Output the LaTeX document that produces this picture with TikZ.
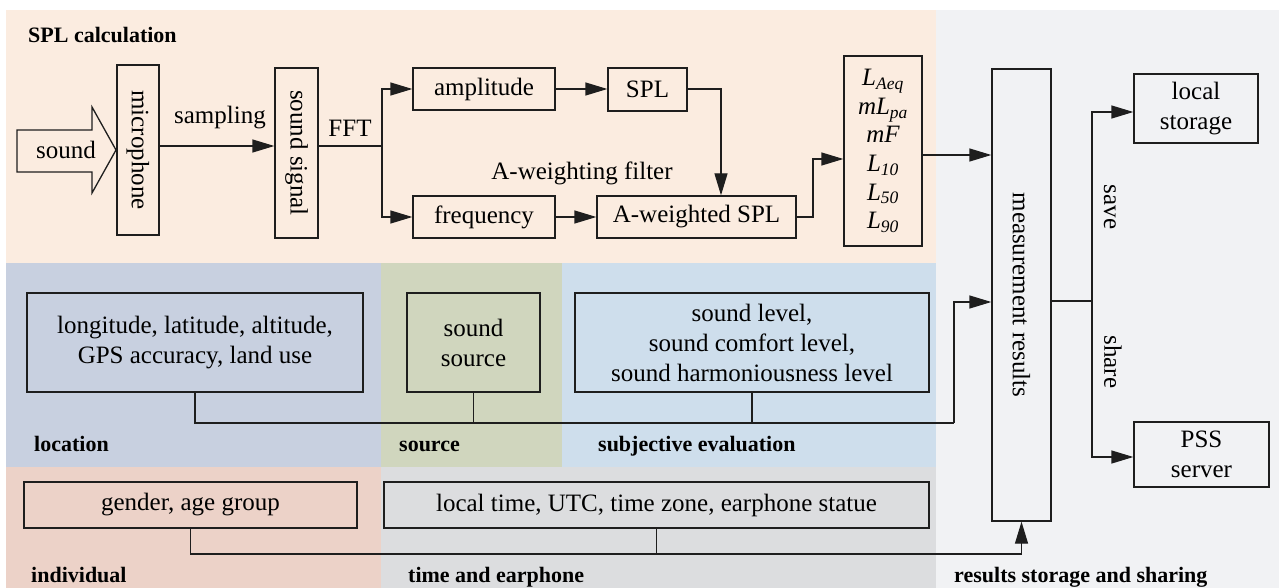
\documentclass[tikz,border=0pt]{standalone}
\usepackage{fontspec}
\setmainfont{Liberation Serif}
\newfontfamily\tms{Liberation Serif}
\usetikzlibrary{arrows.meta,calc}
\definecolor{cSPL}{RGB}{251,236,224}
\definecolor{cRes}{RGB}{241,242,244}
\definecolor{cLoc}{RGB}{200,208,224}
\definecolor{cSrc}{RGB}{208,214,190}
\definecolor{cSubj}{RGB}{206,222,236}
\definecolor{cInd}{RGB}{236,210,200}
\definecolor{cTime}{RGB}{220,221,223}
\definecolor{linec}{RGB}{30,30,30}
\tikzset{
  box/.style={draw=linec, line width=1.3pt, inner sep=0pt, align=center,
    font=\tms\fontsize{25}{30}\selectfont, text=black},
  conn/.style={draw=linec, line width=1.3pt},
  arr/.style={draw=linec, line width=1.3pt, -{Triangle[length=22pt,width=13pt]}},
  lab/.style={font=\tms\fontsize{22}{26}\selectfont\bfseries, anchor=base west, inner sep=0pt, text=black},
  txtlabel/.style={font=\tms\fontsize{25}{30}\selectfont, inner sep=0pt, text=black, align=center},
}
\begin{document}
\begin{tikzpicture}[x=1pt,y=-1pt]
\useasboundingbox (0,0) rectangle (1279,588);
% regions
\fill[cSPL] (6,10) rectangle (936,263);
\fill[cRes] (936,10) rectangle (1279,588);
\fill[cLoc] (6,263) rectangle (381,467);
\fill[cSrc] (381,263) rectangle (562,467);
\fill[cSubj] (562,263) rectangle (936,467);
\fill[cInd] (6,467) rectangle (381,588);
\fill[cTime] (381,467) rectangle (936,588);
% region labels
\node[lab] (lspl) at (28,43) {SPL calculation};
\node[lab] (lloc) at (34,451) {location};
\node[lab] (lsrc) at (399,451) {source};
\node[lab] (lsub) at (598,451) {subjective evaluation};
\node[lab] (lind) at (31,582) {individual};
\node[lab] (ltim) at (408,582) {time and earphone};
\node[lab] (lres) at (954,582) {results storage and sharing};
% sound arrow
\draw[conn, line join=miter] (17,130) -- (92,130) -- (92,107) -- (116,150) -- (92,193) -- (92,172) -- (17,172) -- cycle;
\node[txtlabel] (sound) at (66,150) {sound};
% boxes
\node[box, minimum width=42pt, minimum height=170pt] (mic) at (138,150) {\rotatebox{-90}{microphone}};
\node[box, minimum width=43pt, minimum height=170pt] (sig) at (296.5,153) {\rotatebox{-90}{sound signal}};
\node[box, minimum width=142pt, minimum height=42pt] (amp) at (484,89) {amplitude};
\node[box, minimum width=79pt, minimum height=43pt] (spl) at (647.5,89.5) {SPL};
\node[box, minimum width=142pt, minimum height=42pt] (freq) at (484,217) {frequency};
\node[box, minimum width=199pt, minimum height=42pt] (aw) at (696.5,217) {A-weighted SPL};
\node[box, minimum width=78pt, minimum height=190pt, font=\tms\fontsize{25}{28.6}\selectfont\itshape] (lv) at (883,151)
  {L\textsubscript{Aeq}\\ mL\textsubscript{pa}\\ mF\\ L\textsubscript{10}\\ L\textsubscript{50}\\ L\textsubscript{90}};
\node[box, minimum width=59pt, minimum height=452pt] (meas) at (1021.5,295) {\rotatebox{-90}{measurement results}};
\node[box, minimum width=124pt, minimum height=69pt] (local) at (1196,108.5) {local\\storage};
\node[box, minimum width=135pt, minimum height=65pt] (pss) at (1201.5,454.5) {PSS\\server};
\node[box, minimum width=336pt, minimum height=99pt] (loc) at (195,342.5) {longitude, latitude, altitude,\\GPS accuracy, land use};
\node[box, minimum width=133pt, minimum height=99pt] (src) at (473.5,342.5) {sound\\source};
\node[box, minimum width=354pt, minimum height=99pt] (subj) at (752,342.5) {sound level,\\sound comfort level,\\sound harmoniousness level};
\node[box, minimum width=333pt, minimum height=46pt] (gen) at (190.5,505) {gender, age group};
\node[box, minimum width=545pt, minimum height=46pt] (tim) at (656.5,505) {local time, UTC, time zone, earphone statue};
% edge labels
\node[txtlabel] (tsamp) at (220,118) {sampling};
\node[txtlabel] (tfft) at (350,128) {FFT};
\node[txtlabel] (tawf) at (582,173) {A-weighting filter};
\node[txtlabel, rotate=-90] (tsave) at (1110,207) {save};
\node[txtlabel, rotate=-90] (tshare) at (1113,362) {share};
% connectors SPL
\draw[arr] (mic.east |- 0,146) -- (sig.west |- 0,146);
\coordinate (jf) at (382,146);
\draw[conn] (sig.east |- jf) -- (jf);
\draw[arr] (jf) |- (amp.west);
\draw[arr] (jf) |- (freq.west);
\draw[arr] (amp.east) -- (spl.west |- amp.east);
\coordinate (ja) at (721,89);
\draw[arr] (spl.east |- ja) -- (ja) -- (ja |- aw.north);
\draw[arr] (freq.east) -- (aw.west);
\coordinate (jb) at (813,217);
\draw[arr] (aw.east) -- (jb) |- (lv.west |- 0,159);
\draw[arr] (lv.east |- 0,155) -- (meas.west |- 0,155);
% results
\coordinate (jr) at (1092,301);
\draw[conn] (meas.east |- jr) -- (jr);
\draw[arr] (jr) |- (local.west |- 0,112);
\draw[arr] (jr) |- (pss.west |- 0,457);
% lower connectors
\coordinate (j1) at (954,423);
\draw[conn] (loc.south) -- (loc.south |- j1) -- (j1);
\draw[conn] (src.south) -- (src.south |- j1);
\draw[conn] (subj.south) -- (subj.south |- j1);
\draw[arr] (j1) |- (meas.west |- 0,302);
\coordinate (j2) at (meas.south |- 0,554);
\draw[conn] (gen.south) -- (gen.south |- j2) -- (j2);
\draw[conn] (tim.south) -- (tim.south |- j2);
\draw[arr] (j2) -- (meas.south);
\end{tikzpicture}
\end{document}
